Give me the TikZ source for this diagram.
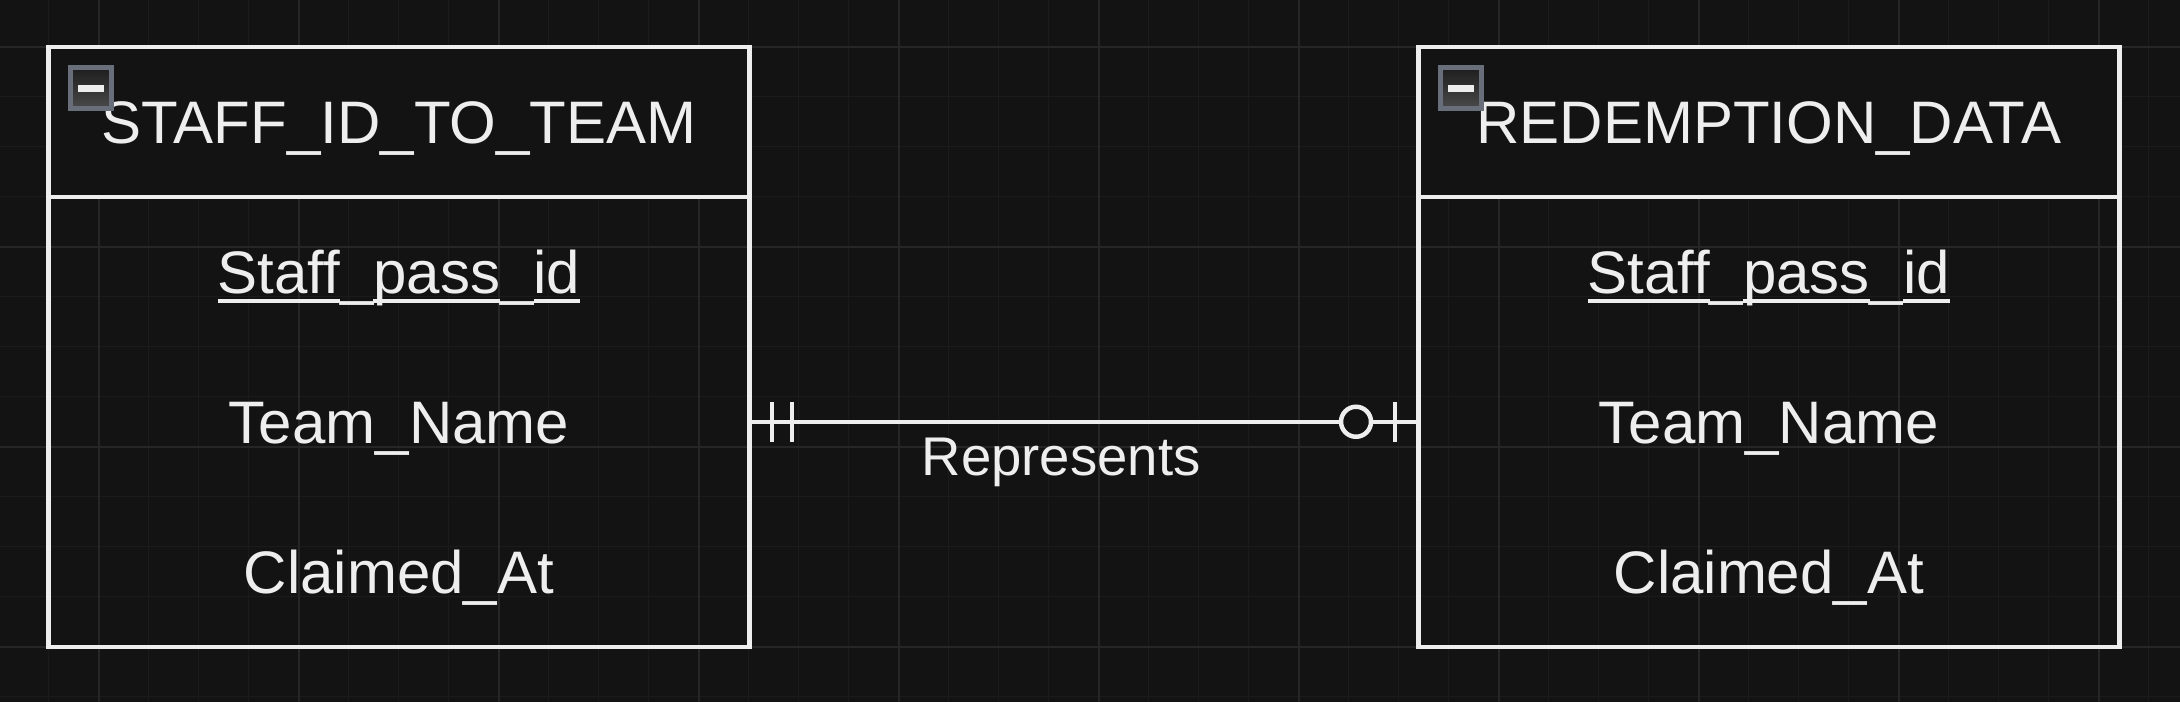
\documentclass[tikz,border=0pt]{standalone}
\usepackage{fontspec}
\setmainfont{Liberation Sans}
\usetikzlibrary{calc}
\definecolor{bg}{HTML}{131313}
\definecolor{gridmaj}{HTML}{262626}
\definecolor{gridmin}{HTML}{1B1B1B}
\definecolor{ink}{HTML}{EEEEEE}
\definecolor{icongray}{HTML}{686E7A}
\definecolor{icontop}{HTML}{1E1E1E}
\definecolor{iconbot}{HTML}{4A4A4A}
\newcommand\entfont{\fontsize{60}{70}\selectfont}
\newcommand\relfont{\fontsize{54.5}{64}\selectfont}
\newsavebox\ulbox
\newcommand\ulseg[1]{\sbox\ulbox{#1}\rlap{\rule[-9pt]{\wd\ulbox}{4pt}}\usebox\ulbox}
\begin{document}
\begin{tikzpicture}[x=1pt,y=-1pt,
  entity/.style={draw=ink, line width=4.5pt, minimum width=701pt, minimum height=600pt, inner sep=0pt},
  row/.style={minimum width=701pt, minimum height=150pt, inner sep=0pt, text height=44pt, text depth=0pt, text=ink, font=\entfont},
  header/.style={row, fill=bg},
  divider/.style={draw=ink, line width=4.5pt},
  icon/.style={draw=icongray, line width=5pt, minimum size=41pt, inner sep=0pt, top color=icontop, bottom color=iconbot},
  rel/.style={draw=ink, line width=4.5pt},
  rellabel/.style={text=ink, font=\relfont, inner sep=0pt},
  gmin/.style={draw=gridmin, line width=1.5pt},
  gmaj/.style={draw=gridmaj, line width=2pt}
]
\useasboundingbox (0,0) rectangle (2180,702);
\fill[bg] (0,0) rectangle (2180,702);
% grid
\foreach \i in {0,...,44} {\draw[gmin] ({-1.5+50*\i},0) -- ({-1.5+50*\i},702);}
\foreach \i in {0,...,14} {\draw[gmin] (0,{-3.5+50*\i}) -- (2180,{-3.5+50*\i});}
\foreach \i in {0,...,10} {\draw[gmaj] ({98.5+200*\i},0) -- ({98.5+200*\i},702);}
\foreach \i in {0,...,3} {\draw[gmaj] (0,{46.5+200*\i}) -- (2180,{46.5+200*\i});}

% left entity
\node[header] (hL) at (399,121.75) {STAFF\_ID\_TO\_TEAM};
\node[row] (l1) at (399,271.75) {\ulseg{Staff}\_\ulseg{pass}\_\ulseg{id}};
\node[row] (l2) at (399,421.75) {Team\_Name};
\node[row] (l3) at (399,571.75) {Claimed\_At};
\node[entity] (L) at (399,346.75) {};
\draw[divider] (L.west |- hL.south) -- (L.east |- hL.south);
\node[icon] (iL) at ($(L.north west)+(44.5,43.75)$) {};
\fill[ink] ($(iL.center)+(-13,-3)$) rectangle ($(iL.center)+(13,3.3)$);

% right entity
\node[header] (hR) at (1768.75,121.75) {REDEMPTION\_DATA};
\node[row] (r1) at (1768.75,271.75) {\ulseg{Staff}\_\ulseg{pass}\_\ulseg{id}};
\node[row] (r2) at (1768.75,421.75) {Team\_Name};
\node[row] (r3) at (1768.75,571.75) {Claimed\_At};
\node[entity] (R) at (1768.75,346.75) {};
\draw[divider] (R.west |- hR.south) -- (R.east |- hR.south);
\node[icon] (iR) at ($(R.north west)+(44.5,43.75)$) {};
\fill[ink] ($(iR.center)+(-13,-3)$) rectangle ($(iR.center)+(13,3.3)$);

% relationship
\coordinate (a) at (L.east |- l2.center);
\coordinate (b) at (R.west |- r2.center);
\draw[rel] (a) -- (b) node[rellabel, pos=0.4657, anchor=base, yshift=-54pt] (lbl) {Represents};
\draw[rel] ($(a)+(20,-20)$) -- ($(a)+(20,20)$);
\draw[rel] ($(a)+(40,-20)$) -- ($(a)+(40,20)$);
\draw[rel] ($(b)+(-21,-20)$) -- ($(b)+(-21,20)$);
\draw[rel, fill=bg] ($(b)+(-60,0)$) circle[radius=15];
\end{tikzpicture}
\end{document}
